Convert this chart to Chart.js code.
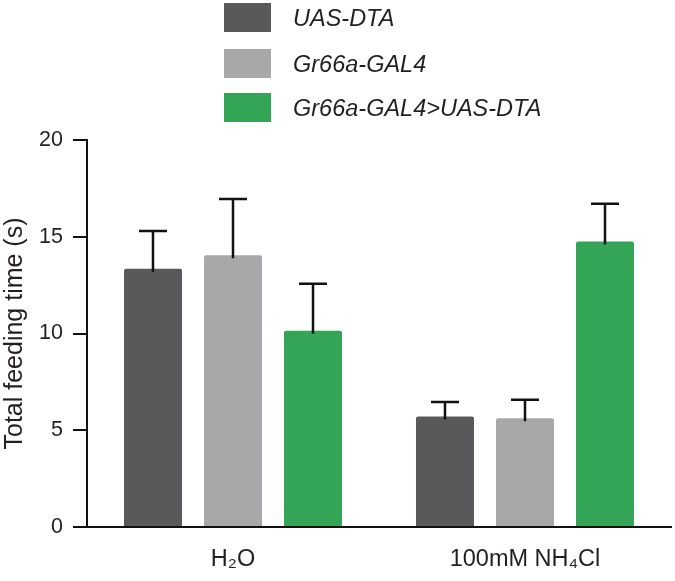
<!DOCTYPE html>
<html>
<head>
<meta charset="utf-8">
<script src="https://cdn.jsdelivr.net/npm/chart.js@4.4.1/dist/chart.umd.min.js"></script>
<style>
  html, body { margin: 0; padding: 0; background: #fff; }
  #wrap { width: 675px; height: 581px; }
</style>
</head>
<body>
<div id="wrap"><canvas id="c" width="675" height="581"></canvas></div>
<script>
// ---- data ----
const categories = ['H\u2082O', '100mM NH\u2084Cl'];
const seriesNames = ['UAS-DTA', 'Gr66a-GAL4', 'Gr66a-GAL4>UAS-DTA'];
const uasDta = [13.35, 5.71];
const uasDtaErr = [1.95, 0.75];
const gr66a = [14.05, 5.62];
const gr66aErr = [2.9, 0.95];
const gr66aDta = [10.14, 14.76];
const gr66aDtaErr = [2.43, 1.95];
const yTicks = [0, 5, 10, 15, 20];

const colors = ['#58595b', '#a7a8aa', '#34a456'];
const FONT = "'Liberation Sans', Arial, Helvetica, sans-serif";
const TEXT = '#231f20';

const errorBars = {
  id: 'errorBars',
  afterDatasetsDraw(chart) {
    const ctx = chart.ctx;
    const yScale = chart.scales.y;
    ctx.save();
    ctx.strokeStyle = '#111';
    ctx.lineWidth = 2.5;
    chart.data.datasets.forEach((ds, di) => {
      const meta = chart.getDatasetMeta(di);
      meta.data.forEach((bar, i) => {
        const v = ds.data[i], e = ds.errors[i];
        const yTop = yScale.getPixelForValue(v + e);
        const yBar = yScale.getPixelForValue(v);
        ctx.beginPath();
        ctx.moveTo(bar.x, yBar + 3);
        ctx.lineTo(bar.x, yTop);
        ctx.moveTo(bar.x - 14, yTop);
        ctx.lineTo(bar.x + 14, yTop);
        ctx.stroke();
      });
    });
    ctx.restore();
  }
};

const topLegend = {
  id: 'topLegend',
  afterDraw(chart) {
    const ctx = chart.ctx;
    ctx.save();
    const boxTops = [3, 49, 93];
    chart.data.datasets.forEach((ds, i) => {
      ctx.fillStyle = ds.backgroundColor;
      ctx.fillRect(224, boxTops[i], 47, 29);
      ctx.fillStyle = TEXT;
      ctx.font = "italic 23.5px " + FONT;
      ctx.textBaseline = 'middle';
      ctx.textAlign = 'left';
      ctx.fillText(ds.label, 293, boxTops[i] + 16);
    });
    ctx.restore();
  }
};

const makeDs = (i, data, errs) => ({
  label: seriesNames[i],
  data: data,
  errors: errs,
  backgroundColor: colors[i],
  borderWidth: 0,
  borderRadius: 2,
  borderSkipped: 'start',
  categoryPercentage: 0.822,
  barPercentage: 0.725
});

new Chart(document.getElementById('c'), {
  type: 'bar',
  data: {
    labels: categories,
    datasets: [
      makeDs(0, uasDta, uasDtaErr),
      makeDs(1, gr66a, gr66aErr),
      makeDs(2, gr66aDta, gr66aDtaErr)
    ]
  },
  options: {
    responsive: false,
    animation: false,
    devicePixelRatio: 1,
    layout: { padding: { top: 140, right: 4, left: 0, bottom: 0 } },
    plugins: {
      legend: { display: false },
      tooltip: { enabled: false }
    },
    scales: {
      x: {
        afterFit(scale) { scale.height = 54; },
        border: { display: true, color: '#111', width: 2 },
        grid: { display: true, drawOnChartArea: false, drawTicks: false, color: 'rgba(0,0,0,0)' },
        ticks: { color: TEXT, font: { family: FONT, size: 23.5 }, padding: 18 }
      },
      y: {
        min: 0, max: 20,
        afterFit(scale) { scale.width = 87; },
        afterBuildTicks(scale) { scale.ticks = yTicks.map(v => ({ value: v })); },
        border: { display: true, color: '#111', width: 2 },
        grid: { display: true, drawOnChartArea: false, drawTicks: true, tickLength: 14, color: '#111', lineWidth: 2 },
        ticks: { color: TEXT, font: { family: FONT, size: 21.5 }, padding: 10 },
        title: { display: true, text: 'Total feeding time (s)', color: TEXT, font: { family: FONT, size: 25 }, padding: { top: 0, bottom: 0 } }
      }
    }
  },
  plugins: [errorBars, topLegend]
});
</script>
</body>
</html>
